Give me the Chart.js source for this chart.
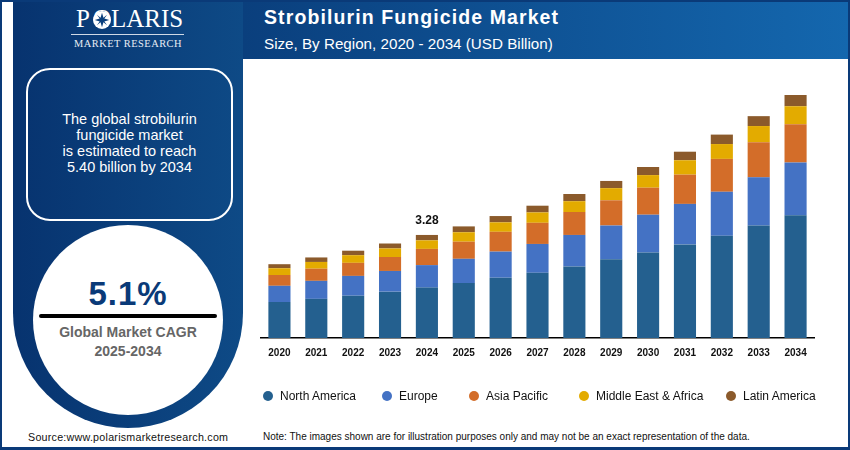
<!DOCTYPE html>
<html>
<head>
<meta charset="utf-8">
<script src="https://cdn.jsdelivr.net/npm/chart.js@4/dist/chart.umd.min.js"></script>
<style>
  html, body { margin: 0; padding: 0; background: #fff; }
  body { width: 850px; height: 450px; position: relative; overflow: hidden; font-family: "Liberation Sans", Arial, sans-serif; }
  .abs { position: absolute; }
  .frame { left: 0; top: 0; width: 846px; height: 445px; border: 2px solid #0a3a78; border-bottom-width: 3px; }
  .panel { left: 13px; top: 2px; width: 230px; height: 426px; border-radius: 0 0 115px 115px; background: linear-gradient(90deg, #07336f, #0e4a86); }
  .header { left: 243px; top: 2px; width: 605px; height: 57px; background: linear-gradient(90deg, #0a3f7d, #1467ae); }
  .title { left: 264px; top: 6px; color: #fff; font-size: 19.5px; font-weight: bold; letter-spacing: 1.1px; white-space: nowrap; }
  .subtitle { left: 264px; top: 35px; color: #fff; font-size: 15.2px; white-space: nowrap; }
  .logo1 { left: 76px; top: 5px; color: #fff; font-family: "Liberation Serif", serif; font-size: 25px; white-space: nowrap; }
  .logo-star { left: 93px; top: 11px; }
  .logo-line { left: 71px; top: 34px; width: 113px; height: 1px; background: #cfd9e6; }
  .logo2 { left: 13px; width: 230px; top: 38px; text-align: center; color: #e8edf4; font-family: "Liberation Serif", serif; font-size: 10.4px; letter-spacing: 0.5px; white-space: nowrap; }
  .callout { left: 26px; top: 68px; width: 203px; height: 149px; border: 2px solid #fff; border-radius: 24px; }
  .callout-text { left: 26px; top: 111px; width: 207px; text-align: center; color: #fff; font-size: 14.5px; line-height: 16px; }
  .circle { left: 33px; top: 225px; width: 190px; height: 190px; border-radius: 50%; background: #fff; }
  .cagr { left: 33px; top: 276px; width: 190px; text-align: center; color: #0a3a78; font-size: 33px; font-weight: bold; letter-spacing: 1px; line-height: 36px; }
  .bar { left: 39px; top: 314px; width: 178px; height: 4px; border-radius: 2px; background: #000; }
  .cagr-label { left: 33px; top: 323px; width: 190px; text-align: center; color: #666; font-size: 14px; font-weight: bold; line-height: 19px; }
  .source { left: 28px; top: 431px; color: #111; font-size: 10.7px; letter-spacing: 0.25px; white-space: nowrap; }
  .note { left: 263px; top: 431px; color: #111; font-size: 10px; white-space: nowrap; }
  #wrap { left: 244px; top: 59px; width: 603px; height: 386px; }
  .legend-item { top: 389px; height: 14px; line-height: 14px; font-size: 12px; color: #111; white-space: nowrap; }
  .legend-dot { position: absolute; left: -17px; top: 2px; width: 10px; height: 10px; border-radius: 50%; }
</style>
</head>
<body>
<div class="abs frame"></div>
<div class="abs panel"></div>
<div class="abs header"></div>
<div class="abs title">Strobilurin Fungicide Market</div>
<div class="abs subtitle">Size, By Region, 2020 - 2034 (USD Billion)</div>
<div class="abs logo1"><span style="letter-spacing:3px">P</span>OLARIS</div>
<svg class="abs logo-star" width="18" height="18" viewBox="-10 -10 20 20">
  <circle r="10" fill="#fff"/>
  <path d="M0-8 1.6-2.6 5.7-5.7 2.6-1.6 8 0 2.6 1.6 5.7 5.7 1.6 2.6 0 8-1.6 2.6-5.7 5.7-2.6 1.6-8 0-2.6-1.6-5.7-5.7-1.6-2.6Z" fill="#0a3f7d"/>
</svg>
<div class="abs logo-line"></div>
<div class="abs logo2">MARKET RESEARCH</div>
<div class="abs callout"></div>
<div class="abs callout-text">The global strobilurin<br>fungicide market<br>is estimated to reach<br>5.40 billion by 2034</div>
<div class="abs circle"></div>
<div class="abs cagr">5.1%</div>
<div class="abs bar"></div>
<div class="abs cagr-label">Global Market CAGR<br>2025-2034</div>
<div class="abs source">Source:www.polarismarketresearch.com</div>
<div class="abs note">Note: The images shown are for illustration purposes only and may not be an exact representation of the data.</div>
<div class="abs" id="wrap"><canvas id="chart" width="603" height="386"></canvas></div>
<div id="legend"></div>
<script>
const years = ["2020","2021","2022","2023","2024","2025","2026","2027","2028","2029","2030","2031","2032","2033","2034"];
const northAmerica = [0.80,0.87,0.94,1.03,1.12,1.22,1.34,1.45,1.59,1.75,1.90,2.08,2.27,2.50,2.73];
const europe = [0.36,0.40,0.44,0.46,0.50,0.54,0.58,0.64,0.70,0.75,0.84,0.90,0.98,1.07,1.17];
const asiaPacific = [0.24,0.27,0.29,0.31,0.36,0.38,0.44,0.47,0.51,0.56,0.60,0.65,0.73,0.78,0.85];
const middleEastAfrica = [0.15,0.15,0.17,0.19,0.19,0.21,0.21,0.23,0.24,0.27,0.28,0.32,0.33,0.36,0.40];
const latinAmerica = [0.09,0.10,0.10,0.11,0.12,0.13,0.14,0.15,0.16,0.16,0.18,0.19,0.21,0.22,0.25];
const calloutYear = "2024";
const calloutLabel = "3.28";

// Left edge of each legend label, the reference spaces them unevenly
const legendLefts = [280, 399, 486, 596, 743];

// Value label over one stacked bar
const calloutPlugin = {
  id: "callout",
  afterDatasetsDraw(chart) {
    const i = years.indexOf(calloutYear);
    const top = chart.getDatasetMeta(chart.data.datasets.length - 1).data[i];
    const ctx = chart.ctx;
    ctx.save();
    ctx.font = "bold 12px 'Liberation Sans', Arial, sans-serif";
    ctx.fillStyle = "#111";
    ctx.textAlign = "center";
    ctx.textBaseline = "bottom";
    ctx.fillText(calloutLabel, top.x, top.y - 8);
    ctx.restore();
  }
};

function series(label, data, color) {
  return { label, data, backgroundColor: color, borderWidth: 0, stack: "all", categoryPercentage: 0.6, barPercentage: 1 };
}

const chart = new Chart(document.getElementById("chart"), {
  type: "bar",
  data: {
    labels: years,
    datasets: [
      series("North America", northAmerica, "#24608f"),
      series("Europe", europe, "#4472c4"),
      series("Asia Pacific", asiaPacific, "#d36d29"),
      series("Middle East & Africa", middleEastAfrica, "#e3ab00"),
      series("Latin America", latinAmerica, "#8b5a2b")
    ]
  },
  options: {
    responsive: false,
    animation: false,
    layout: { padding: { left: 17, right: 33, top: 27, bottom: 77 } },
    plugins: { tooltip: { enabled: false }, legend: { display: false } },
    scales: {
      x: {
        stacked: true,
        grid: { display: false, drawTicks: false },
        border: { color: "#000", width: 1.5 },
        ticks: { color: "#111", padding: 9, maxRotation: 0, autoSkip: false, font: { size: 10, weight: "bold", family: "'Liberation Sans', Arial, sans-serif" } }
      },
      y: { stacked: true, display: false, min: 0, max: 5.6 }
    }
  },
  plugins: [calloutPlugin]
});

// Legend built from the chart's own datasets
const legend = document.getElementById("legend");
chart.data.datasets.forEach((ds, i) => {
  const item = document.createElement("div");
  item.className = "abs legend-item";
  item.style.left = legendLefts[i] + "px";
  item.innerHTML = `<span class="legend-dot" style="background:${ds.backgroundColor}"></span>`;
  item.appendChild(document.createTextNode(ds.label));
  legend.appendChild(item);
});
</script>
</body>
</html>
